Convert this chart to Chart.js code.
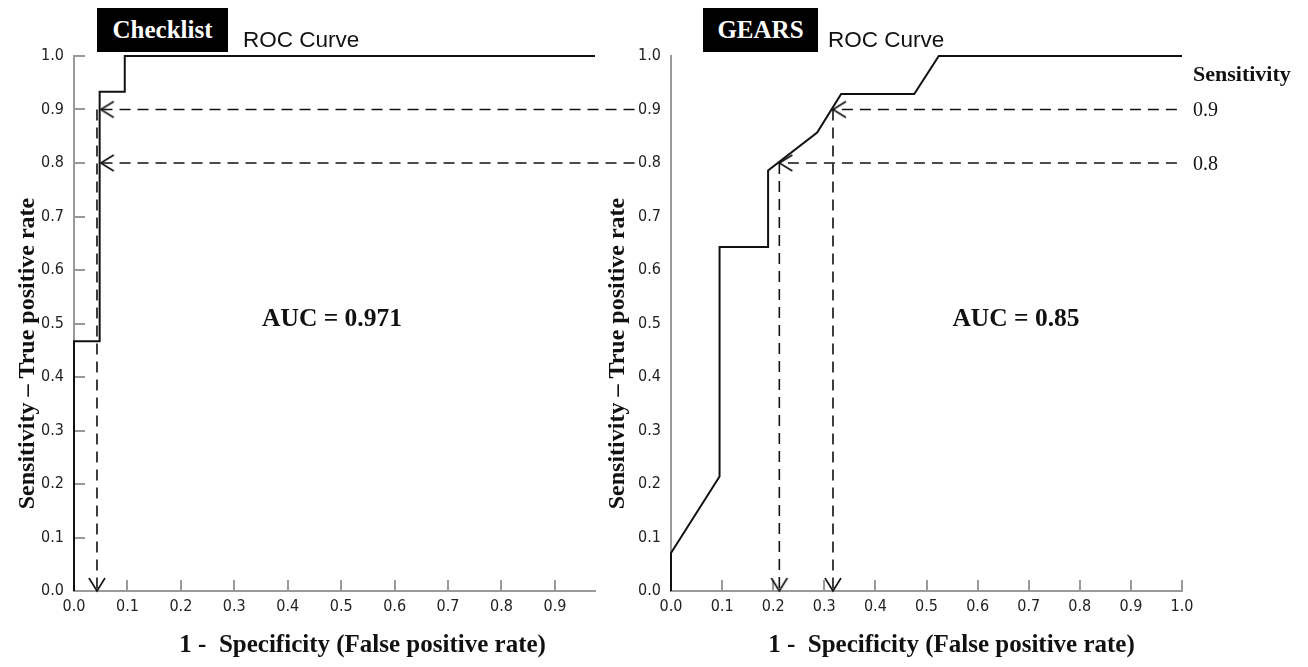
<!DOCTYPE html>
<html>
<head>
<meta charset="utf-8">
<script src="https://cdn.jsdelivr.net/npm/chart.js@4.4.0/dist/chart.umd.min.js"></script>
<style>
  body { margin: 0; background: #fff; width: 1308px; height: 667px; position: relative; overflow: hidden; }
  .wrap { position: absolute; top: 0; height: 667px; }
  #wrap-left { left: 0; width: 640px; }
  #wrap-right { left: 590px; width: 718px; }
  .tag { position: absolute; top: 8px; height: 44px; background: #000; color: #fff;
         font: bold 25px 'Liberation Serif', serif; line-height: 44px; text-align: center; }
  .roc { position: absolute; top: 27px; font: 22.5px 'Liberation Sans', Arial, sans-serif; line-height: 26px; color: #111; }
  .auc { position: absolute; transform: translate(-50%, -50%); font: bold 25.5px 'Liberation Serif', serif; color: #111; white-space: nowrap; }
  .side { position: absolute; left: 1193px; transform: translateY(-50%); font: 20px 'Liberation Serif', serif; color: #111; }
  .side.head { font-weight: bold; font-size: 22px; }
</style>
</head>
<body>
<div class="wrap" id="wrap-left"><canvas id="roc-checklist"></canvas></div>
<div class="wrap" id="wrap-right"><canvas id="roc-gears"></canvas></div>

<div class="tag" style="left:97px;width:131px;">Checklist</div>
<div class="roc" style="left:243px;">ROC Curve</div>
<div class="tag" style="left:703px;width:115px;">GEARS</div>
<div class="roc" style="left:828px;">ROC Curve</div>
<div class="auc" style="left:332px;top:318px;">AUC = 0.971</div>
<div class="auc" style="left:1016px;top:318px;">AUC = 0.85</div>
<div class="side head" style="top:74px;">Sensitivity</div>
<div class="side" style="top:109px;">0.9</div>
<div class="side" style="top:163px;">0.8</div>

<script>
'use strict';

// Checklist ROC curve (1 - specificity, sensitivity)
const checklistFpr = [0, 0, 0.048, 0.048, 0.095, 0.095, 0.975];
const checklistTpr = [0, 0.467, 0.467, 0.933, 0.933, 1.0, 1.0];

// GEARS ROC curve
const gearsFpr = [0, 0, 0.095, 0.095, 0.19, 0.19, 0.286, 0.333, 0.476, 0.524, 1.0];
const gearsTpr = [0, 0.071, 0.214, 0.643, 0.643, 0.786, 0.857, 0.929, 0.929, 1.0, 1.0];

// dashed guides: sensitivity level, where the arrow meets the curve, where the guide starts
const checklistLevels = [0.9, 0.8];
const checklistHit = [0.05, 0.05];
const checklistGuideEnd = 1.049;
const checklistDrop = [0.043];
const checklistDropFrom = [0.9];

const gearsLevels = [0.9, 0.8];
const gearsHit = [0.317, 0.212];
const gearsGuideEnd = 0.99;
const gearsDrop = [0.317, 0.212];
const gearsDropFrom = [0.9, 0.8];

// tick labels
const yTicks = [0, 0.1, 0.2, 0.3, 0.4, 0.5, 0.6, 0.7, 0.8, 0.9, 1.0];
const checklistXTicks = [0, 0.1, 0.2, 0.3, 0.4, 0.5, 0.6, 0.7, 0.8, 0.9];
const gearsXTicks = [0, 0.1, 0.2, 0.3, 0.4, 0.5, 0.6, 0.7, 0.8, 0.9, 1.0];

const X_TITLE = '1 -  Specificity (False positive rate)';
const Y_TITLE = 'Sensitivity \u2013 True positive rate';

const INK = '#111';
const AXIS = '#9a9a9a';

// the original titles sit a bit off-centre; pad them with spaces to nudge them
function pad(text, lead, trail) {
  return ' '.repeat(lead) + text + ' '.repeat(trail);
}

function makeArrowHead() {
  const c = document.createElement('canvas');
  c.width = 28;
  c.height = 28;
  const g = c.getContext('2d');
  g.strokeStyle = INK;
  g.lineWidth = 1.6;
  g.beginPath();
  g.moveTo(27, 6);
  g.lineTo(14, 14);
  g.lineTo(27, 22);
  g.stroke();
  return c;
}
const arrowHead = makeArrowHead();

function guide(points, rotation) {
  const last = points.length - 1;
  return {
    data: points,
    showLine: true,
    borderColor: INK,
    borderWidth: 1.6,
    borderDash: [11, 7],
    clip: false,
    pointRadius: function (ctx) { return ctx.dataIndex === last ? 7 : 0; },
    pointStyle: arrowHead,
    pointRotation: rotation,
  };
}

function buildGuides(levels, hit, guideEnd, drop, dropFrom) {
  const sets = [];
  levels.forEach(function (lv, i) {
    sets.push(guide([{ x: guideEnd, y: lv }, { x: hit[i], y: lv }], 0));
  });
  drop.forEach(function (x, i) {
    sets.push(guide([{ x: x, y: dropFrom[i] }, { x: x, y: 0 }], 270));
  });
  return sets;
}

// inward tick marks, drawn from the scales
const innerTicks = {
  id: 'innerTicks',
  beforeDatasetsDraw(chart, args, opts) {
    const ctx = chart.ctx;
    const xs = chart.scales.x;
    const ys = chart.scales.y;
    ctx.save();
    ctx.strokeStyle = AXIS;
    ctx.lineWidth = 2;
    ctx.beginPath();
    (opts.x || []).forEach(function (v) {
      const px = Math.round(xs.getPixelForValue(v));
      ctx.moveTo(px, ys.bottom);
      ctx.lineTo(px, ys.bottom - opts.len);
    });
    (opts.y || []).forEach(function (v) {
      const py = Math.round(ys.getPixelForValue(v));
      ctx.moveTo(xs.left, py);
      ctx.lineTo(xs.left + opts.len, py);
    });
    ctx.stroke();
    ctx.restore();
  },
};

const tickFont = { family: "'Liberation Sans Narrow', 'DejaVu Sans Condensed', sans-serif", size: 16 };
const xTitleFont = { family: "'Liberation Serif', serif", size: 25, weight: 'bold' };
const yTitleFont = { family: "'Liberation Serif', serif", size: 24, weight: 'bold' };

function makeChart(id, cfg) {
  const curve = cfg.fpr.map(function (x, i) { return { x: x, y: cfg.tpr[i] }; });
  return new Chart(document.getElementById(id), {
    type: 'scatter',
    data: {
      datasets: [{
        data: curve,
        showLine: true,
        borderColor: INK,
        borderWidth: 2,
        pointRadius: 0,
        tension: 0,
        clip: false,
      }].concat(cfg.guides),
    },
    options: {
      responsive: true,
      maintainAspectRatio: false,
      animation: false,
      layout: { padding: { left: 0, top: 56, right: cfg.padRight, bottom: 0 } },
      plugins: {
        legend: { display: false },
        tooltip: { enabled: false },
        innerTicks: cfg.tickMarks,
      },
      scales: {
        x: {
          type: 'linear',
          min: 0,
          max: cfg.xMax,
          afterBuildTicks: function (s) { s.ticks = cfg.xTicks.map(function (v) { return { value: v }; }); },
          afterFit: function (s) { s.height = 76; },
          grid: { display: false, drawTicks: false },
          border: { display: true, color: AXIS, width: 2 },
          ticks: {
            autoSkip: false,
            maxRotation: 0,
            padding: 6,
            color: '#222',
            font: tickFont,
            callback: function (v) { return Number(v).toFixed(1); },
          },
          title: {
            display: true,
            text: pad(X_TITLE, cfg.xTitleLead, 0),
            color: INK,
            font: xTitleFont,
            padding: { top: 0, bottom: 6 },
          },
        },
        y: {
          type: 'linear',
          min: 0,
          max: 1,
          afterBuildTicks: function (s) { s.ticks = yTicks.map(function (v) { return { value: v }; }); },
          afterFit: function (s) { s.width = cfg.yWidth; },
          grid: { display: false, drawTicks: false },
          border: { display: true, color: AXIS, width: 2 },
          ticks: {
            autoSkip: false,
            padding: 10,
            color: '#222',
            font: tickFont,
            callback: function (v) { return Number(v).toFixed(1); },
          },
          title: {
            display: true,
            text: pad(Y_TITLE, 0, 10),
            color: INK,
            font: yTitleFont,
            padding: { top: cfg.yTitlePad, bottom: 0 },
          },
        },
      },
    },
    plugins: [innerTicks],
  });
}

document.addEventListener('DOMContentLoaded', function () {
  makeChart('roc-checklist', {
    fpr: checklistFpr,
    tpr: checklistTpr,
    guides: buildGuides(checklistLevels, checklistHit, checklistGuideEnd, checklistDrop, checklistDropFrom),
    xMax: 0.975,
    xTicks: checklistXTicks,
    yWidth: 74,
    yTitlePad: 13,
    padRight: 45,
    xTitleLead: 9,
    tickMarks: { x: checklistXTicks.slice(1), y: yTicks.slice(1), len: 11 },
  });

  makeChart('roc-gears', {
    fpr: gearsFpr,
    tpr: gearsTpr,
    guides: buildGuides(gearsLevels, gearsHit, gearsGuideEnd, gearsDrop, gearsDropFrom),
    xMax: 1.0,
    xTicks: gearsXTicks,
    yWidth: 81,
    yTitlePad: 13,
    padRight: 126,
    xTitleLead: 8,
    tickMarks: { x: gearsXTicks.slice(1), y: [], len: 11 },
  });
});
</script>
</body>
</html>
